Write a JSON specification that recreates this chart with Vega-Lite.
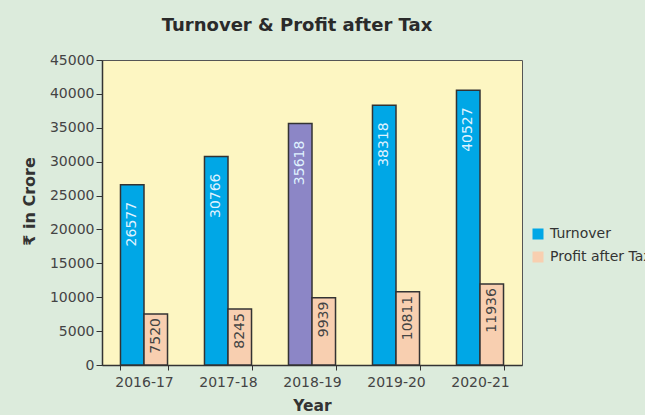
{
  "$schema": "https://vega.github.io/schema/vega-lite/v6.json",
  "width": 420,
  "height": 305,
  "autosize": {"type": "none"},
  "padding": {"left": 102, "top": 60, "right": 123, "bottom": 50},
  "background": "#dcebdc",
  "config": {
    "font": "DejaVu Sans",
    "view": {"fill": "#fdf6c2", "stroke": "#555555", "strokeWidth": 1}
  },
  "title": {
    "text": "Turnover & Profit after Tax",
    "fontSize": 18,
    "fontWeight": "bold",
    "color": "#2a2a2a",
    "offset": 18,
    "dx": -15,
    "anchor": "middle"
  },
  "data": {
    "values": [
      {"year": "2016-17", "series": "Turnover", "value": 26577},
      {"year": "2016-17", "series": "Profit after Tax", "value": 7520},
      {"year": "2017-18", "series": "Turnover", "value": 30766},
      {"year": "2017-18", "series": "Profit after Tax", "value": 8245},
      {"year": "2018-19", "series": "Turnover", "value": 35618},
      {"year": "2018-19", "series": "Profit after Tax", "value": 9939},
      {"year": "2019-20", "series": "Turnover", "value": 38318},
      {"year": "2019-20", "series": "Profit after Tax", "value": 10811},
      {"year": "2020-21", "series": "Turnover", "value": 40527},
      {"year": "2020-21", "series": "Profit after Tax", "value": 11936}
    ]
  },
  "encoding": {
    "x": {
      "field": "year",
      "type": "nominal",
      "scale": {"paddingInner": 0.44, "paddingOuter": 0.22},
      "axis": {
        "title": "Year",
        "labelAngle": 0,
        "labelFontSize": 14,
        "labelColor": "#444444",
        "labelPadding": 5,
        "tickBand": "extent",
        "tickSize": 5,
        "tickColor": "#333333",
        "domainColor": "#333333",
        "domainWidth": 1.5,
        "titleFontSize": 15.5,
        "titleFontWeight": "bold",
        "titleColor": "#333333",
        "titlePadding": 9
      }
    },
    "xOffset": {
      "field": "series",
      "type": "nominal",
      "sort": ["Turnover", "Profit after Tax"]
    },
    "y": {
      "field": "value",
      "type": "quantitative",
      "scale": {"domain": [0, 45000], "nice": false},
      "axis": {
        "title": "₹ in Crore",
        "values": [0, 5000, 10000, 15000, 20000, 25000, 30000, 35000, 40000, 45000],
        "format": "d",
        "grid": false,
        "labelFontSize": 14,
        "labelColor": "#444444",
        "labelPadding": 2,
        "tickSize": 6,
        "tickColor": "#333333",
        "domainColor": "#333333",
        "domainWidth": 1.5,
        "titleFontSize": 16,
        "titleFontWeight": "bold",
        "titleColor": "#333333",
        "titlePadding": 12,
        "titleY": 141
      }
    }
  },
  "layer": [
    {
      "mark": {"type": "bar", "stroke": "#333333", "strokeWidth": 1.5},
      "encoding": {
        "color": {
          "condition": {
            "test": "datum.year === '2018-19' && datum.series === 'Turnover'",
            "value": "#8c86c6"
          },
          "field": "series",
          "type": "nominal",
          "scale": {
            "domain": ["Turnover", "Profit after Tax"],
            "range": ["#00a7e6", "#f8cfb0"]
          },
          "legend": {
            "title": null,
            "orient": "none",
            "legendX": 429,
            "legendY": 167,
            "symbolType": "square",
            "symbolSize": 121,
            "symbolStrokeWidth": 0,
            "labelFontSize": 14,
            "labelColor": "#333333",
            "labelLimit": 300,
            "labelOffset": 5,
            "rowPadding": 9
          }
        }
      }
    },
    {
      "transform": [{"filter": "datum.series === 'Turnover'"}],
      "mark": {
        "type": "text",
        "angle": -90,
        "align": "right",
        "baseline": "middle",
        "dx": -17,
        "fontSize": 14,
        "color": "#dff2ff"
      },
      "encoding": {
        "text": {"field": "value", "type": "nominal"}
      }
    },
    {
      "transform": [{"filter": "datum.series === 'Profit after Tax'"}],
      "mark": {
        "type": "text",
        "angle": -90,
        "align": "right",
        "baseline": "middle",
        "dx": -4,
        "fontSize": 14,
        "color": "#444444"
      },
      "encoding": {
        "text": {"field": "value", "type": "nominal"}
      }
    }
  ]
}
